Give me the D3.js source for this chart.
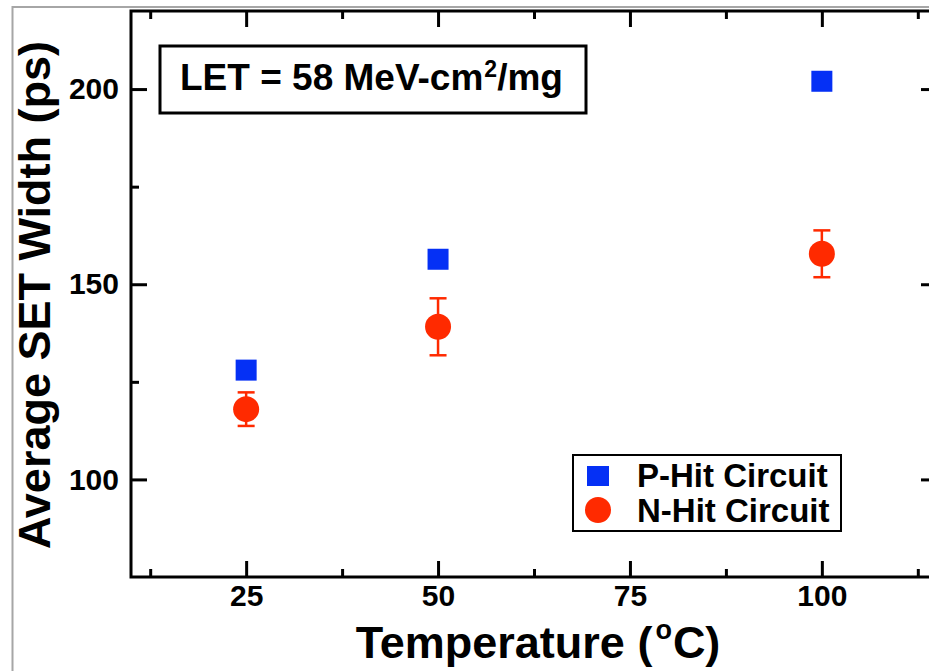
<!DOCTYPE html>
<html>
<head>
<meta charset="utf-8">
<script src="https://cdn.jsdelivr.net/npm/d3@7"></script>
<style>
  html, body { margin: 0; padding: 0; background: #fff; }
  svg { display: block; font-family: "Liberation Sans", Arial, Helvetica, sans-serif; font-weight: bold; }
</style>
</head>
<body>
<svg id="chart" width="929" height="671"></svg>
<script>
// Temperatures tested (°C)
const temperatures = [25, 50, 100];
// Average SET width (ps) for the P-hit circuit
const pHitWidth = [128, 156.4, 202];
// Average SET width (ps) for the N-hit circuit and its error half-range
const nHitWidth = [118, 139.1, 157.8];
const nHitError = [4.3, 7.3, 6.0];

const xMajorTicks = [25, 50, 75, 100];
const xMinorTicks = [12.5, 37.5, 62.5, 87.5, 112.5];
const yMajorTicks = [100, 150, 200];
const yMinorTicks = [125, 175];

const seriesNames = ["P-Hit Circuit", "N-Hit Circuit"];
const blue = "#0530f5";
const red = "#ff2a00";

const svg = d3.select("#chart");
const W = 929, H = 671;

const plot = { left: 131, right: 937, top: 11, bottom: 577 };

const x = d3.scaleLinear().domain([10, 115]).range([plot.left, plot.right]);
const y = d3.scaleLinear().domain([75, 220]).range([plot.bottom, plot.top]);

// outer grey frame of the figure
svg.append("rect").attr("x", 0).attr("y", 0).attr("width", W).attr("height", H).attr("fill", "#fff");
svg.append("path")
  .attr("d", `M12.5,${H} L12.5,7 L${W},7`)
  .attr("fill", "none").attr("stroke", "#a6a6a6").attr("stroke-width", 2);

function styleAxis(g) {
  g.select(".domain").remove();
  g.selectAll(".tick line").attr("stroke", "#000").attr("stroke-width", 3);
  g.selectAll(".tick text").attr("fill", "#000").attr("font-size", 30).attr("font-weight", "bold")
    .attr("font-family", "'Liberation Sans', Arial, sans-serif");
}

// bottom axis: major ticks with labels, minor ticks without
svg.append("g").attr("transform", `translate(0,${plot.bottom})`)
  .call(d3.axisBottom(x).tickValues(xMajorTicks).tickSizeInner(-16).tickSizeOuter(0).tickPadding(8).tickFormat(d3.format("d")))
  .call(styleAxis);
svg.append("g").attr("transform", `translate(0,${plot.bottom})`)
  .call(d3.axisBottom(x).tickValues(xMinorTicks).tickSizeInner(-8).tickSizeOuter(0).tickFormat(""))
  .call(styleAxis);
// top axis
svg.append("g").attr("transform", `translate(0,${plot.top})`)
  .call(d3.axisTop(x).tickValues(xMajorTicks).tickSizeInner(-16).tickSizeOuter(0).tickFormat(""))
  .call(styleAxis);
svg.append("g").attr("transform", `translate(0,${plot.top})`)
  .call(d3.axisTop(x).tickValues(xMinorTicks).tickSizeInner(-8).tickSizeOuter(0).tickFormat(""))
  .call(styleAxis);
// left axis
svg.append("g").attr("transform", `translate(${plot.left},0)`)
  .call(d3.axisLeft(y).tickValues(yMajorTicks).tickSizeInner(-16).tickSizeOuter(0).tickPadding(12).tickFormat(d3.format("d")))
  .call(styleAxis);
svg.append("g").attr("transform", `translate(${plot.left},0)`)
  .call(d3.axisLeft(y).tickValues(yMinorTicks).tickSizeInner(-8).tickSizeOuter(0).tickFormat(""))
  .call(styleAxis);
// right axis
svg.append("g").attr("transform", `translate(${plot.right},0)`)
  .call(d3.axisRight(y).tickValues(yMajorTicks).tickSizeInner(-16).tickSizeOuter(0).tickFormat(""))
  .call(styleAxis);
svg.append("g").attr("transform", `translate(${plot.right},0)`)
  .call(d3.axisRight(y).tickValues(yMinorTicks).tickSizeInner(-8).tickSizeOuter(0).tickFormat(""))
  .call(styleAxis);

// plot frame
svg.append("rect")
  .attr("x", plot.left).attr("y", plot.top)
  .attr("width", plot.right - plot.left).attr("height", plot.bottom - plot.top)
  .attr("fill", "none").attr("stroke", "#000").attr("stroke-width", 3);

// axis titles
const xTitle = svg.append("text")
  .attr("x", 538).attr("y", 658)
  .attr("text-anchor", "middle").attr("font-size", 45).attr("fill", "#000");
xTitle.append("tspan").text("Temperature (");
xTitle.append("tspan").attr("font-size", 27).attr("dx", 3).attr("dy", -19).text("o");
xTitle.append("tspan").attr("dx", 1).attr("dy", 19).text("C)");

svg.append("text")
  .attr("transform", "translate(50,295) rotate(-90)")
  .attr("text-anchor", "middle").attr("font-size", 45).attr("fill", "#000")
  .text("Average SET Width (ps)");

// LET annotation box
svg.append("rect").attr("x", 160).attr("y", 46).attr("width", 426).attr("height", 67)
  .attr("fill", "#fff").attr("stroke", "#000").attr("stroke-width", 3);
const let_ = svg.append("text").attr("x", 180).attr("y", 90).attr("font-size", 37).attr("fill", "#000");
let_.append("tspan").text("LET = 58 MeV-cm");
let_.append("tspan").attr("font-size", 23).attr("dx", 1).attr("dy", -13).text("2");
let_.append("tspan").attr("dy", 13).text("/mg");

// N-hit error bars
const errG = svg.append("g").attr("stroke", red).attr("stroke-width", 2.5);
temperatures.forEach((t, i) => {
  const cx = x(t), lo = y(nHitWidth[i] - nHitError[i]), hi = y(nHitWidth[i] + nHitError[i]);
  errG.append("line").attr("x1", cx).attr("x2", cx).attr("y1", lo).attr("y2", hi);
  errG.append("line").attr("x1", cx - 8.5).attr("x2", cx + 8.5).attr("y1", lo).attr("y2", lo);
  errG.append("line").attr("x1", cx - 8.5).attr("x2", cx + 8.5).attr("y1", hi).attr("y2", hi);
});

// N-hit circles
svg.append("g").selectAll("circle").data(temperatures).join("circle")
  .attr("cx", d => x(d)).attr("cy", (d, i) => y(nHitWidth[i])).attr("r", 13)
  .attr("fill", red);

// P-hit squares
const sq = 21;
svg.append("g").selectAll("rect").data(temperatures).join("rect")
  .attr("x", d => x(d) - sq / 2).attr("y", (d, i) => y(pHitWidth[i]) - sq / 2)
  .attr("width", sq).attr("height", sq).attr("fill", blue);

// legend
const legend = svg.append("g");
legend.append("rect").attr("x", 573).attr("y", 455).attr("width", 268).attr("height", 76)
  .attr("fill", "#fff").attr("stroke", "#000").attr("stroke-width", 2);
legend.append("rect").attr("x", 587).attr("y", 466).attr("width", 22).attr("height", 20).attr("fill", blue);
legend.append("circle").attr("cx", 598).attr("cy", 510).attr("r", 13).attr("fill", red);
legend.selectAll("text.lab").data(seriesNames).join("text")
  .attr("class", "lab")
  .attr("x", 637).attr("y", (d, i) => 487 + i * 35)
  .attr("font-size", 33).attr("fill", "#000").text(d => d);
</script>
</body>
</html>
